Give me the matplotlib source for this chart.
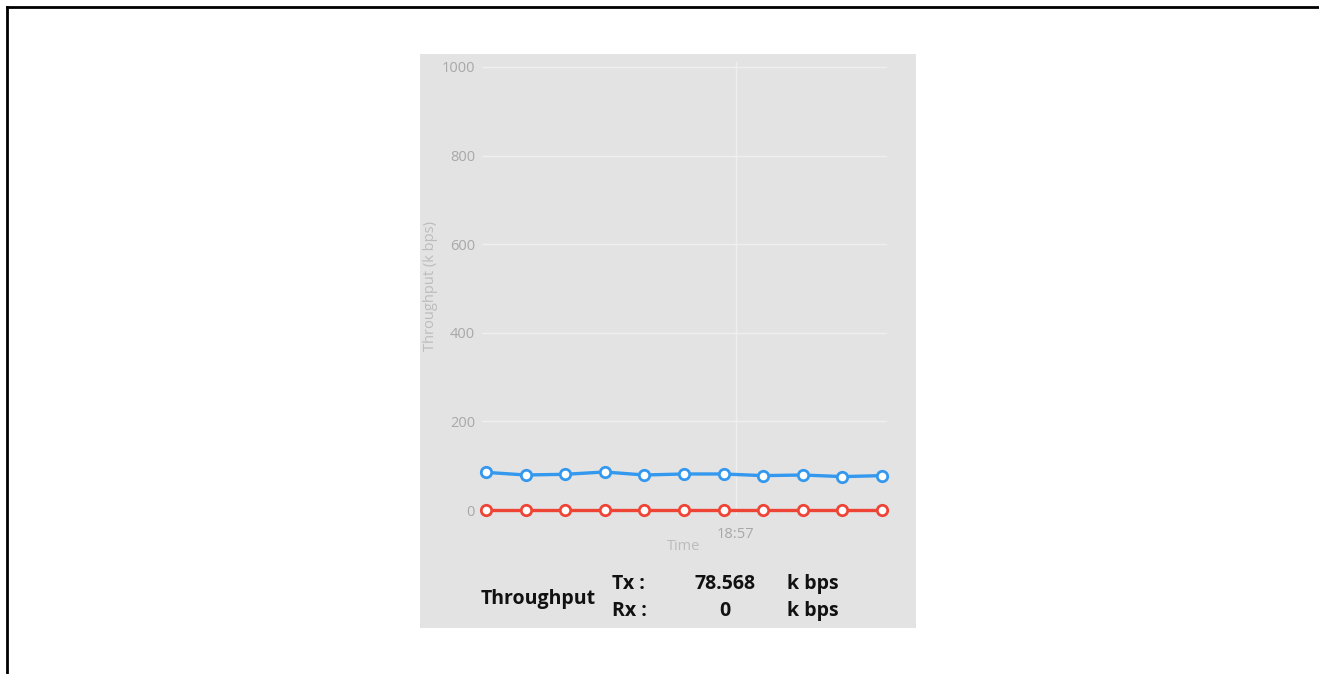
import matplotlib
matplotlib.use("Agg")
import matplotlib.pyplot as plt
from matplotlib.lines import Line2D
from matplotlib.patches import Rectangle

# ---- data ----
sample_index = list(range(11))
tx_values = [85, 79, 80.6, 85.8, 79, 81.3, 81.3, 77.6, 79, 75.4, 77.6]
rx_values = [0, 0, 0, 0, 0, 0, 0, 0, 0, 0, 0]
y_ticks = [0, 200, 400, 600, 800, 1000]
time_tick_pos = [6.31]
time_tick_labels = ["18:57"]
tx_current = "78.568"
rx_current = "0"

W, H = 1319, 674
fig = plt.figure(figsize=(W / 100, H / 100), dpi=100)
fig.patch.set_facecolor("white")

def fx(px):
    return px / W

def fy(py):
    return 1 - py / H

# gray panel
panel = Rectangle((fx(420), fy(628)), fx(916) - fx(420), fy(54) - fy(628),
                  transform=fig.transFigure, facecolor="#e3e3e3", edgecolor="none", zorder=0)
fig.add_artist(panel)

# border lines (top & left)
fig.add_artist(Line2D([fx(7), 1], [fy(7), fy(7)], transform=fig.transFigure, color="black", lw=2))
fig.add_artist(Line2D([fx(7), fx(7)], [fy(7), 0], transform=fig.transFigure, color="black", lw=2))

ax_left, ax_right, ax_top, ax_bottom = 482, 887, 62, 515
ax = fig.add_axes([fx(ax_left), fy(ax_bottom), fx(ax_right) - fx(ax_left), fy(ax_top) - fy(ax_bottom)])
ax.set_facecolor("none")
step = (882 - 486) / 10
ax.set_xlim(-(486 - ax_left) / step, 10 + (ax_right - 882) / step)
ppu = (510 - 67) / 1000
ax.set_ylim(-(ax_bottom - 510) / ppu, 1000 + (67 - ax_top) / ppu)

for s in ax.spines.values():
    s.set_visible(False)

lab_font = "Open Sans"
ax.set_yticks(y_ticks)
ax.set_yticklabels([str(v) for v in y_ticks], fontfamily=lab_font)
ax.set_xticks(time_tick_pos)
ax.set_xticklabels(time_tick_labels, fontfamily=lab_font)
ax.tick_params(axis="both", length=0, labelsize=10.5, labelcolor="#a8a8a8")
ax.tick_params(axis="y", pad=5)
ax.tick_params(axis="x", pad=9)
ax.grid(True, color="#efefef", lw=1)
ax.set_axisbelow(True)

ax.plot(sample_index, tx_values, color="#3398ee", lw=2.4, marker="o", ms=7.5,
        mfc="white", mec="#3398ee", mew=2, zorder=3, clip_on=False)
ax.plot(sample_index, rx_values, color="#ee4436", lw=2.4, marker="o", ms=7.5,
        mfc="white", mec="#ee4436", mew=2, zorder=3, clip_on=False)

fig.text(fx(431), fy(286), "Throughput (k bps)", rotation=90, ha="center", va="center",
         fontsize=10.5, color="#bcbcbc", fontfamily=lab_font)
fig.text(fx(684), fy(547), "Time", ha="center", va="center", fontsize=10.5, color="#bcbcbc",
         fontfamily=lab_font)

tkw = dict(fontsize=14, color="#111111", fontfamily="Open Sans", fontweight="bold", va="center")
fig.text(fx(481), fy(599), "Throughput", ha="left", **tkw)
fig.text(fx(612), fy(584), "Tx :", ha="left", **tkw)
fig.text(fx(612), fy(611), "Rx :", ha="left", **tkw)
fig.text(fx(725), fy(584), tx_current, ha="center", **tkw)
fig.text(fx(725), fy(611), rx_current, ha="center", **tkw)
fig.text(fx(787), fy(584), "k bps", ha="left", **tkw)
fig.text(fx(787), fy(611), "k bps", ha="left", **tkw)

fig.savefig("out.png", dpi=100, facecolor="white")
